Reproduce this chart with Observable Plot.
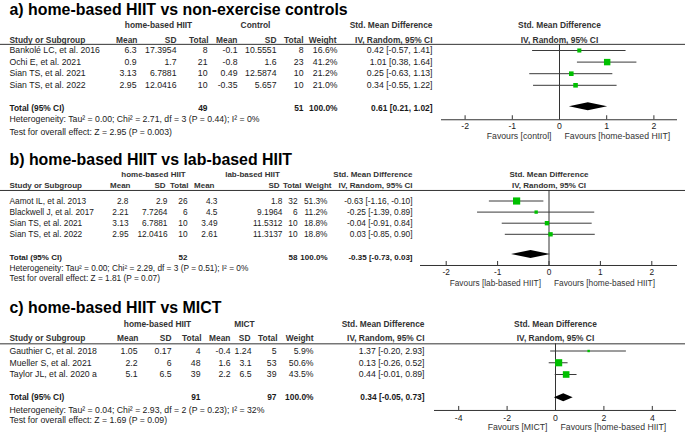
<!DOCTYPE html>
<html><head><meta charset="utf-8">
<script src="https://cdn.jsdelivr.net/npm/d3@7"></script>
<script src="https://cdn.jsdelivr.net/npm/@observablehq/plot@0.6"></script>
<style>
html,body{margin:0;padding:0;background:#fff;}
#chart{width:685px;}
#chart svg{display:block;overflow:visible;}
</style></head><body><div id="chart"></div>
<script>
const green = "#00c000";

// ---- Panel a ----
const aTitle = "a) home-based HIIT vs non-exercise controls";
const aGroups = ["home-based HIIT", "Control"];
const aStudies = ["Bankolé LC, et al. 2016", "Ochi E, et al. 2021", "Sian TS, et al. 2021", "Sian TS, et al. 2022"];
const aMean1 = ["6.3", "0.9", "3.13", "2.95"];
const aSD1 = ["17.3954", "1.7", "6.7881", "12.0416"];
const aN1 = [8, 21, 10, 10];
const aMean2 = ["-0.1", "-0.8", "0.49", "-0.35"];
const aSD2 = ["10.5551", "1.6", "12.5874", "5.657"];
const aN2 = [8, 23, 10, 10];
const aWeight = [16.6, 41.2, 21.2, 21.0];
const aSmd = [0.42, 1.01, 0.25, 0.34];
const aLo = [-0.57, 0.38, -0.63, -0.55];
const aHi = [1.41, 1.64, 1.13, 1.22];
const aTotal = [0.61, 0.21, 1.02];
const aTotalN = [49, 51];
const aHet = "Heterogeneity: Tau² = 0.00; Chi² = 2.71, df = 3 (P = 0.44); I² = 0%";
const aTest = "Test for overall effect: Z = 2.95 (P = 0.003)";
const aTicks = [-2, -1, 0, 1, 2];
const aFavours = ["Favours [control]", "Favours [home-based HIIT]"];

// ---- Panel b ----
const bTitle = "b) home-based HIIT vs lab-based HIIT";
const bGroups = ["home-based HIIT", "lab-based HIIT"];
const bStudies = ["Aamot IL, et al. 2013", "Blackwell J, et al. 2017", "Sian TS, et al. 2021", "Sian TS, et al. 2022"];
const bMean1 = ["2.8", "2.21", "3.13", "2.95"];
const bSD1 = ["2.9", "7.7264", "6.7881", "12.0416"];
const bN1 = [26, 6, 10, 10];
const bMean2 = ["4.3", "4.5", "3.49", "2.61"];
const bSD2 = ["1.8", "9.1964", "11.5312", "11.3137"];
const bN2 = [32, 6, 10, 10];
const bWeight = [51.3, 11.2, 18.8, 18.8];
const bSmd = [-0.63, -0.25, -0.04, 0.03];
const bLo = [-1.16, -1.39, -0.91, -0.85];
const bHi = [-0.10, 0.89, 0.84, 0.90];
const bTotal = [-0.35, -0.73, 0.03];
const bTotalN = [52, 58];
const bHet = "Heterogeneity: Tau² = 0.00; Chi² = 2.29, df = 3 (P = 0.51); I² = 0%";
const bTest = "Test for overall effect: Z = 1.81 (P = 0.07)";
const bTicks = [-2, -1, 0, 1, 2];
const bFavours = ["Favours [lab-based HIIT]", "Favours [home-based HIIT]"];

// ---- Panel c ----
const cTitle = "c) home-based HIIT vs MICT";
const cGroups = ["home-based HIIT", "MICT"];
const cStudies = ["Gauthier C, et al. 2018", "Mueller S, et al. 2021", "Taylor JL, et al. 2020 a"];
const cMean1 = ["1.05", "2.2", "5.1"];
const cSD1 = ["0.17", "6", "6.5"];
const cN1 = [4, 48, 39];
const cMean2 = ["-0.4", "1.6", "2.2"];
const cSD2 = ["1.24", "3.1", "6.5"];
const cN2 = [5, 53, 39];
const cWeight = [5.9, 50.6, 43.5];
const cSmd = [1.37, 0.13, 0.44];
const cLo = [-0.20, -0.26, -0.01];
const cHi = [2.93, 0.52, 0.89];
const cTotal = [0.34, -0.05, 0.73];
const cTotalN = [91, 97];
const cHet = "Heterogeneity: Tau² = 0.04; Chi² = 2.93, df = 2 (P = 0.23); I² = 32%";
const cTest = "Test for overall effect: Z = 1.69 (P = 0.09)";
const cTicks = [-4, -2, 0, 2, 4];
const cFavours = ["Favours [MICT]", "Favours [home-based HIIT]"];

const colHeaders = ["Mean", "SD", "Total", "Mean", "SD", "Total", "Weight"];
const fmtCI = (m, l, h) => `${m.toFixed(2)} [${l.toFixed(2)}, ${h.toFixed(2)}]`;

function panel(d, L) {
  const n = d.studies.length;
  const idx = d3.range(n);
  const R = L.rows, C = L.cols, V = C.v, H = C.h;
  const px = v => v / L.step; // pixel length -> row units
  const TXT = "#1a1a1a", HDR = "#333";
  const FS = L.fs, HFS = L.fs - 0.3;
  const col = (vals, x, extra = {}) => Plot.text(vals, {
    y: (v, i) => i, text: v => String(v), frameAnchor: "left", dx: x,
    textAnchor: "end", fill: TXT, fontSize: FS, ...extra
  });
  const lab = (s, row, x, anchor, extra = {}) => Plot.text([s], {
    y: row, text: v => v, frameAnchor: "left", dx: x, textAnchor: anchor, fill: HDR, fontSize: FS, ...extra
  });
  const bold = {fontWeight: "bold", fontSize: HFS};
  const [tm, tl, th] = d.total;
  const diamond = [
    {x: tl, y1: R.diamond, y2: R.diamond},
    {x: tm, y1: R.diamond - px(4), y2: R.diamond + px(4)},
    {x: th, y1: R.diamond, y2: R.diamond}
  ];
  return Plot.plot({
    width: 685, height: L.height, margin: 0,
    style: {fontFamily: "'Liberation Sans', Arial, sans-serif", fontSize: "9px", background: "white"},
    x: {domain: L.domain, range: L.range, axis: null},
    y: {type: "linear", domain: [0, 1], range: [L.row0, L.row0 + L.step], axis: null},
    r: {type: "sqrt", domain: [0, 50], range: [0, 4]},
    marks: [
      // title
      lab(d.title, R.title, 9, "start", {fontSize: 15.9, fontWeight: "bold", fill: "#000"}),
      // group headers
      lab(d.groups[0], R.group, C.g1, "middle", bold),
      lab(d.groups[1], R.group, C.g2, "middle", bold),
      lab("Std. Mean Difference", R.group, C.ci, "end", bold),
      lab("IV, Random, 95% CI", R.header, C.ci, "end", bold),
      Plot.text(["Std. Mean Difference"], {x: 0, y: R.group, text: v => v, fill: HDR, ...bold}),
      Plot.text(["IV, Random, 95% CI"], {x: 0, y: R.header, text: v => v, fill: HDR, ...bold}),
      // column headers
      lab("Study or Subgroup", R.header, C.name, "start", bold),
      ...colHeaders.map((h, i) => lab(h, R.header, H[i], "end", bold)),
      Plot.ruleY([R.line], {stroke: "#333", strokeWidth: 1}),
      // table body
      Plot.text(d.studies, {y: (v, i) => i, text: v => v, frameAnchor: "left", dx: C.name, textAnchor: "start", fill: TXT, fontSize: FS}),
      col(d.mean1, V[0]), col(d.sd1, V[1]), col(d.n1, V[2]),
      col(d.mean2, V[3]), col(d.sd2, V[4]), col(d.n2, V[5]),
      col(d.weight.map(w => w.toFixed(1) + "%"), V[6]),
      col(idx.map(i => fmtCI(d.smd[i], d.lo[i], d.hi[i])), C.ci),
      // total row
      lab("Total (95% CI)", R.total, C.name, "start", {...bold, fill: TXT}),
      lab(String(d.totalN[0]), R.total, V[2], "end", {...bold, fill: TXT}),
      lab(String(d.totalN[1]), R.total, V[5], "end", {...bold, fill: TXT}),
      lab("100.0%", R.total, V[6], "end", {...bold, fill: TXT}),
      lab(fmtCI(tm, tl, th), R.total, C.ci, "end", {...bold, fill: TXT}),
      lab(d.het, R.het, C.name, "start", {fill: TXT}),
      lab(d.test, R.test, C.name, "start", {fill: TXT}),
      // forest plot
      Plot.ruleX([0], {y1: R.line, y2: R.axis, stroke: "#333", strokeWidth: 1}),
      Plot.ruleY([R.axis], {x1: L.domain[0], x2: L.domain[1], stroke: "#333", strokeWidth: 1}),
      Plot.ruleX(d.ticks, {x: v => v, y1: R.axis - px(4), y2: R.axis, stroke: "#333", strokeWidth: 1}),
      Plot.text(d.ticks, {x: v => v, y: R.tickLab, text: v => String(v), fill: TXT, fontSize: FS}),
      Plot.text([d.favours[0]], {x: 0, y: R.fav, text: v => v, textAnchor: "end", dx: -8, fill: HDR, fontSize: FS}),
      Plot.text([d.favours[1]], {x: 0, y: R.fav, text: v => v, textAnchor: "start", dx: 5, fill: HDR, fontSize: FS}),
      Plot.ruleY(idx, {y: i => i, x1: i => d.lo[i], x2: i => d.hi[i], stroke: "#3a3a3a", strokeWidth: 1}),
      Plot.dot(idx, {x: i => d.smd[i], y: i => i, r: i => d.weight[i], symbol: "square", fill: green, stroke: null}),
      Plot.areaY(diamond, {x: "x", y1: "y1", y2: "y2", fill: "#000", curve: "linear"})
    ]
  });
}

const A = {title: aTitle, groups: aGroups, studies: aStudies, mean1: aMean1, sd1: aSD1, n1: aN1, mean2: aMean2, sd2: aSD2, n2: aN2,
  weight: aWeight, smd: aSmd, lo: aLo, hi: aHi, total: aTotal, totalN: aTotalN, het: aHet, test: aTest, ticks: aTicks, favours: aFavours};
const B = {title: bTitle, groups: bGroups, studies: bStudies, mean1: bMean1, sd1: bSD1, n1: bN1, mean2: bMean2, sd2: bSD2, n2: bN2,
  weight: bWeight, smd: bSmd, lo: bLo, hi: bHi, total: bTotal, totalN: bTotalN, het: bHet, test: bTest, ticks: bTicks, favours: bFavours};
const Cc = {title: cTitle, groups: cGroups, studies: cStudies, mean1: cMean1, sd1: cSD1, n1: cN1, mean2: cMean2, sd2: cSD2, n2: cN2,
  weight: cWeight, smd: cSmd, lo: cLo, hi: cHi, total: cTotal, totalN: cTotalN, het: cHet, test: cTest, ticks: cTicks, favours: cFavours};

const layoutA = {height: 140, row0: 50, step: 11.6, domain: [-2.5, 2.5], range: [441, 677], fs: 8.7,
  rows: {title: -3.5, group: -2.13, header: -0.92, line: -0.53, total: 5.0, diamond: 4.85, het: 5.95, test: 7.04, axis: 5.97, tickLab: 6.52, fav: 7.36},
  cols: {name: 9, v: [136, 176, 207, 237, 276, 303, 337], h: [137, 176, 208, 237, 276, 303, 336], ci: 432, g1: 158, g2: 255}};
const layoutB = {height: 150, row0: 60.5, step: 11.1, domain: [-2.5, 2.5], range: [420, 677], fs: 8.3,
  rows: {title: -3.73, group: -2.36, header: -1.40, line: -0.95, total: 5.06, diamond: 4.82, het: 6.1, test: 6.98, axis: 5.81, tickLab: 6.45, fav: 7.43},
  cols: {name: 9, v: [128, 167, 187, 217, 282, 297, 327], h: [130, 165, 188, 214, 279, 301, 331], ci: 412, g1: 153, g2: 252}};
const layoutC = {height: 145, row0: 60.5, step: 11.75, domain: [-5, 5], range: [434, 676], fs: 8.7,
  rows: {title: -3.70, group: -2.31, header: -1.12, line: -0.61, total: 3.98, diamond: 3.98, het: 5.06, test: 5.91, axis: 5.06, tickLab: 5.72, fav: 6.52},
  cols: {name: 9, v: [137, 171, 200, 230, 251, 276, 313], h: [138, 171, 201, 230, 250, 277, 313], ci: 424, g1: 157, g2: 244}};

const root = document.getElementById("chart");
root.append(panel(A, layoutA), panel(B, layoutB), panel(Cc, layoutC));
</script></body></html>
